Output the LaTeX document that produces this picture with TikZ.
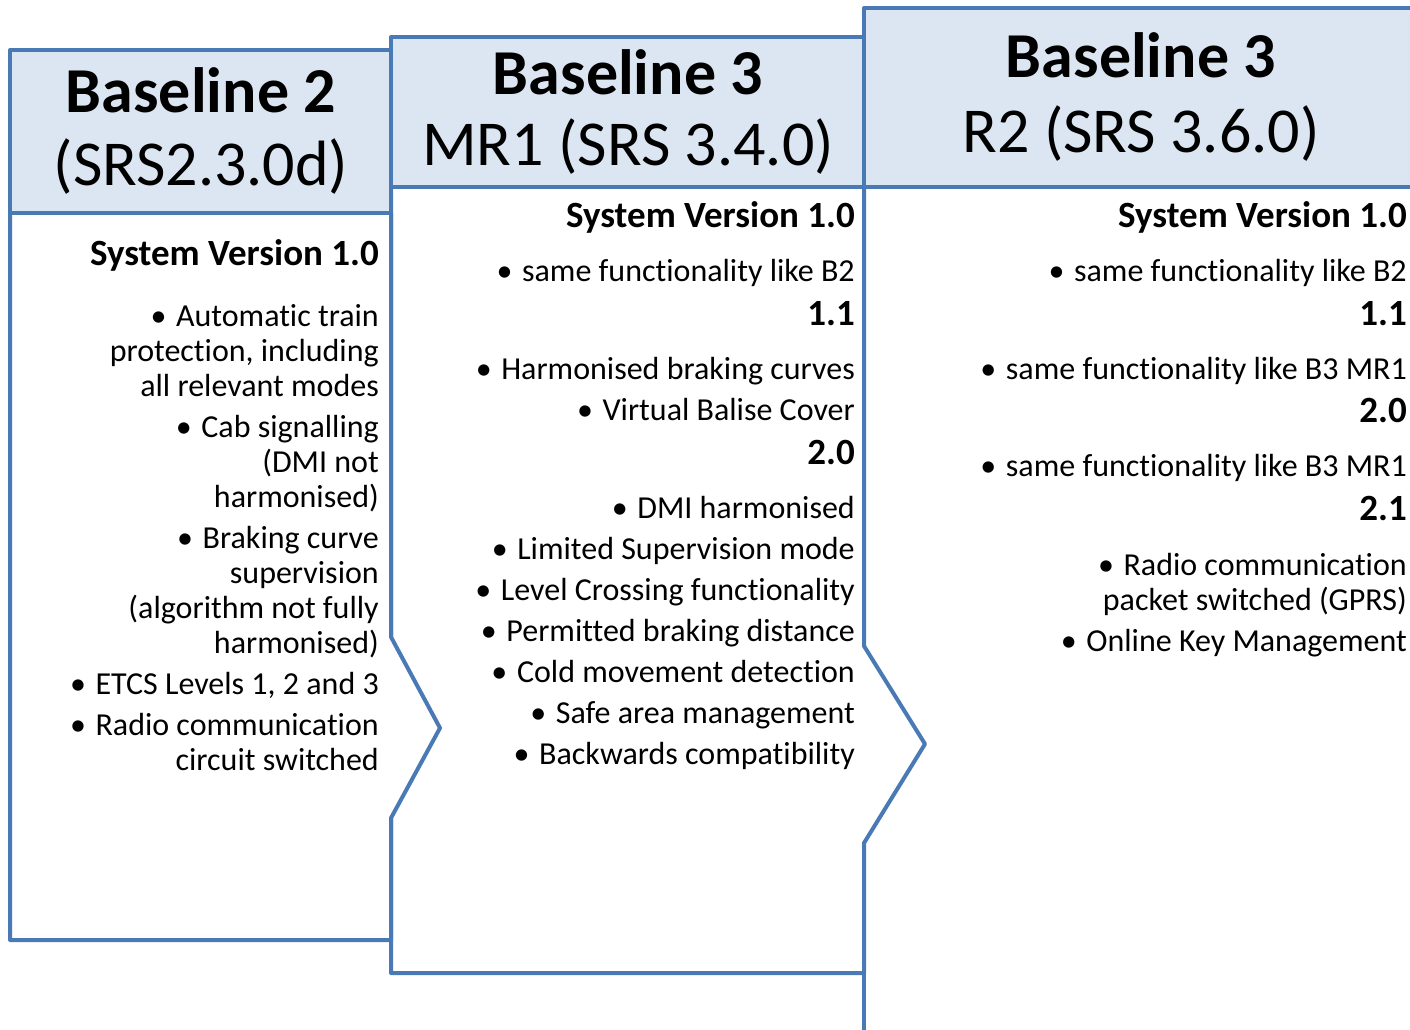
\documentclass[tikz,border=0pt]{standalone}
\usepackage{fontspec}
\setmainfont{Carlito}[Ligatures=NoCommon]
\definecolor{etcsblue}{RGB}{74,122,181}
\definecolor{hdrfill}{RGB}{220,230,242}
\def\bul{•\hspace{0.3em}}

\begin{document}
\begin{tikzpicture}[x=1pt, y=-1pt,
	panel/.style={draw=etcsblue, line width=4pt, line join=round},
	hdr/.style={panel, fill=hdrfill},
	ttl/.style={anchor=base, inner sep=0pt, font=\fontsize{64}{70}\selectfont},
	ttlb/.style={anchor=base, inner sep=0pt, font=\fontsize{64}{70}\selectfont\bfseries},
	txt/.style={anchor=base east, inner sep=0pt, font=\fontsize{32}{35}\selectfont},
	ver/.style={anchor=base east, inner sep=0pt, font=\fontsize{37}{40}\selectfont\bfseries}]
		%%%%% START %%%%%
		
		\useasboundingbox (0,0) rectangle (1410,1030);
		
		\draw[panel] (10,213) -- (10,940) -- (391,940) -- (391,818) -- (440,728) -- (391,637) -- (391,213);
		\draw[panel] (391,187) -- (391,637) (391,818) -- (391,973) -- (864,973) -- (864,843) -- (925,744) -- (864,646) -- (864,187);
		\draw[panel] (864,187) -- (864,646) (864,843) -- (864,1040);
		\draw[panel] (1418,187) -- (1418,1040);
		
		\draw[hdr] (864,8) rectangle (1418,187);
		\draw[hdr] (391,37) rectangle (864,187);
		\draw[hdr] (10,50) rectangle (391,213);
		
		\node[ttlb] (b2a) at (201,113) {Baseline 2};
		\node[ttl] (b2b) at (201,185) {(SRS2.3.0d)};
		\node[ttlb] (b3a) at (628,95) {Baseline 3};
		\node[ttl] (b3b) at (628,165) {MR1 (SRS 3.4.0)};
		\node[ttlb] (r2a) at (1141,78) {Baseline 3};
		\node[ttl] (r2b) at (1141,153) {R2 (SRS 3.6.0)};
		
		\node[ver] (b2v10) at (379,265) {System Version 1.0};
		\node[txt] (b2i1) at (379,326) {\bul Automatic train};
		\node[txt] (b2i1b) at (379,361) {protection, including};
		\node[txt] (b2i1c) at (379,396) {all relevant modes};
		\node[txt] (b2i2) at (379,437) {\bul Cab signalling};
		\node[txt] (b2i2b) at (379,472) {(DMI not};
		\node[txt] (b2i2c) at (379,507) {harmonised)};
		\node[txt] (b2i3) at (379,548) {\bul Braking curve};
		\node[txt] (b2i3b) at (379,583) {supervision};
		\node[txt] (b2i3c) at (379,618) {(algorithm not fully};
		\node[txt] (b2i3d) at (379,653) {harmonised)};
		\node[txt] (b2i4) at (379,694) {\bul ETCS Levels 1, 2 and 3};
		\node[txt] (b2i5) at (379,735) {\bul Radio communication};
		\node[txt] (b2i5b) at (379,770) {circuit switched};
		
		\node[ver] (b3v10) at (855,227) {System Version 1.0};
		\node[txt] (b3i1) at (855,281) {\bul same functionality like B2};
		\node[ver] (b3v11) at (855,325) {1.1};
		\node[txt] (b3i2) at (855,379) {\bul Harmonised braking curves};
		\node[txt] (b3i3) at (855,420) {\bul Virtual Balise Cover};
		\node[ver] (b3v20) at (855,464) {2.0};
		\node[txt] (b3i4) at (855,518) {\bul DMI harmonised};
		\node[txt] (b3i5) at (855,559) {\bul Limited Supervision mode};
		\node[txt] (b3i6) at (855,600) {\bul Level Crossing functionality};
		\node[txt] (b3i7) at (855,641) {\bul Permitted braking distance};
		\node[txt] (b3i8) at (855,682) {\bul Cold movement detection};
		\node[txt] (b3i9) at (855,723) {\bul Safe area management};
		\node[txt] (b3i10) at (855,764) {\bul Backwards compatibility};
		
		\node[ver] (r2v10) at (1407,227) {System Version 1.0};
		\node[txt] (r2i1) at (1407,281) {\bul same functionality like B2};
		\node[ver] (r2v11) at (1407,325) {1.1};
		\node[txt] (r2i2) at (1407,379) {\bul same functionality like B3 MR1};
		\node[ver] (r2v20) at (1407,422) {2.0};
		\node[txt] (r2i3) at (1407,476) {\bul same functionality like B3 MR1};
		\node[ver] (r2v21) at (1407,520) {2.1};
		\node[txt] (r2i4) at (1407,575) {\bul Radio communication};
		\node[txt] (r2i4b) at (1407,610) {packet switched (GPRS)};
		\node[txt] (r2i5) at (1407,651) {\bul Online Key Management};
		
		%%%%% END %%%%%
\end{tikzpicture}
\end{document}
